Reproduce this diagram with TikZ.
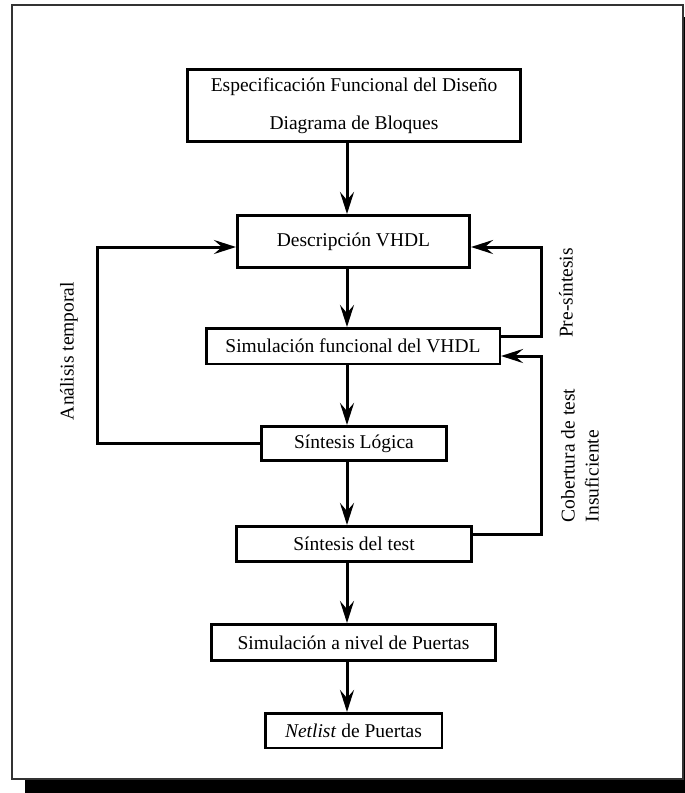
\documentclass[tikz,border=0pt]{standalone}
\usepackage{fontspec}
\setmainfont{Liberation Serif}
\usetikzlibrary{arrows.meta, positioning}

\tikzset{
  stagebox/.style={rectangle, draw=black, fill=white, line width=3.3pt, inner sep=0pt, font=\fontsize{19.5}{23}\selectfont, align=center},
  thinbox/.style={stagebox, line width=2.5pt},
  flow/.style={-{Stealth[length=22pt, width=14pt, inset=8pt]}, line width=3pt},
  sidelabel/.style={rotate=90, inner sep=0pt, font=\fontsize{19.5}{24}\selectfont, align=left}
}

\begin{document}
\begin{tikzpicture}[x=1pt, y=-1pt]
\clip (0,0) rectangle (685,793);
% frame with its shadow
\fill[black] (25,17) rectangle (700,810);
\draw[black!80, line width=1.5pt, fill=white] (12,5) rectangle (683,779);

\node[stagebox, minimum width=332.5pt, minimum height=71.5pt, font=\fontsize{19.5}{38}\selectfont] (stage1) at (354,105.5) {Especificación Funcional del Diseño\\Diagrama de Bloques};
\node[stagebox, minimum width=231.7pt, minimum height=51.7pt] (stage2) at (353.5,241.5) {Descripción VHDL};
\node[thinbox, minimum width=293.5pt, minimum height=35.5pt] (stage3) at (353,346) {Simulación funcional del VHDL};
\node[stagebox, minimum width=184.7pt, minimum height=33.7pt] (stage4) at (354,443.5) {Síntesis Lógica};
\node[stagebox, minimum width=234.7pt, minimum height=34.7pt] (stage5) at (354,544) {Síntesis del test};
\node[stagebox, minimum width=283.7pt, minimum height=35.7pt] (stage6) at (353.5,642.5) {Simulación a nivel de Puertas};
\node[thinbox, minimum width=176.5pt, minimum height=34.5pt] (stage7) at (353.5,730.5) {\textit{Netlist} de Puertas};

\coordinate (axis) at (347,0);

\draw[flow] (stage1.south -| axis) -- (stage2.north -| axis);
\draw[flow] (stage2.south -| axis) -- (stage3.north -| axis);
\draw[flow] (stage3.south -| axis) -- (stage4.north -| axis);
\draw[flow] (stage4.south -| axis) -- (stage5.north -| axis);
\draw[flow] (stage5.south -| axis) -- (stage6.north -| axis);
\draw[flow] (stage6.south -| axis) -- (stage7.north -| axis);

% feedback loops
\draw[flow] (stage4.west) -- ++(-163,0) |- ([yshift=-5.5pt]stage2.west);
\draw[flow] ([yshift=10pt]stage3.east) -- ++(40,0) |- ([yshift=-5.5pt]stage2.east);
\draw[flow] ([yshift=10pt]stage5.east) -- ++(68,0) |- ([yshift=-10pt]stage3.east);

\node[sidelabel, align=center] (lbltiming) at (69,351) {Análisis temporal};
\node[sidelabel] (lblpre) at (566,293) {Pre-síntesis};
\node[sidelabel] (lblcover) at (580,455.5) {Cobertura de test\\Insuficiente};
\end{tikzpicture}
\end{document}
